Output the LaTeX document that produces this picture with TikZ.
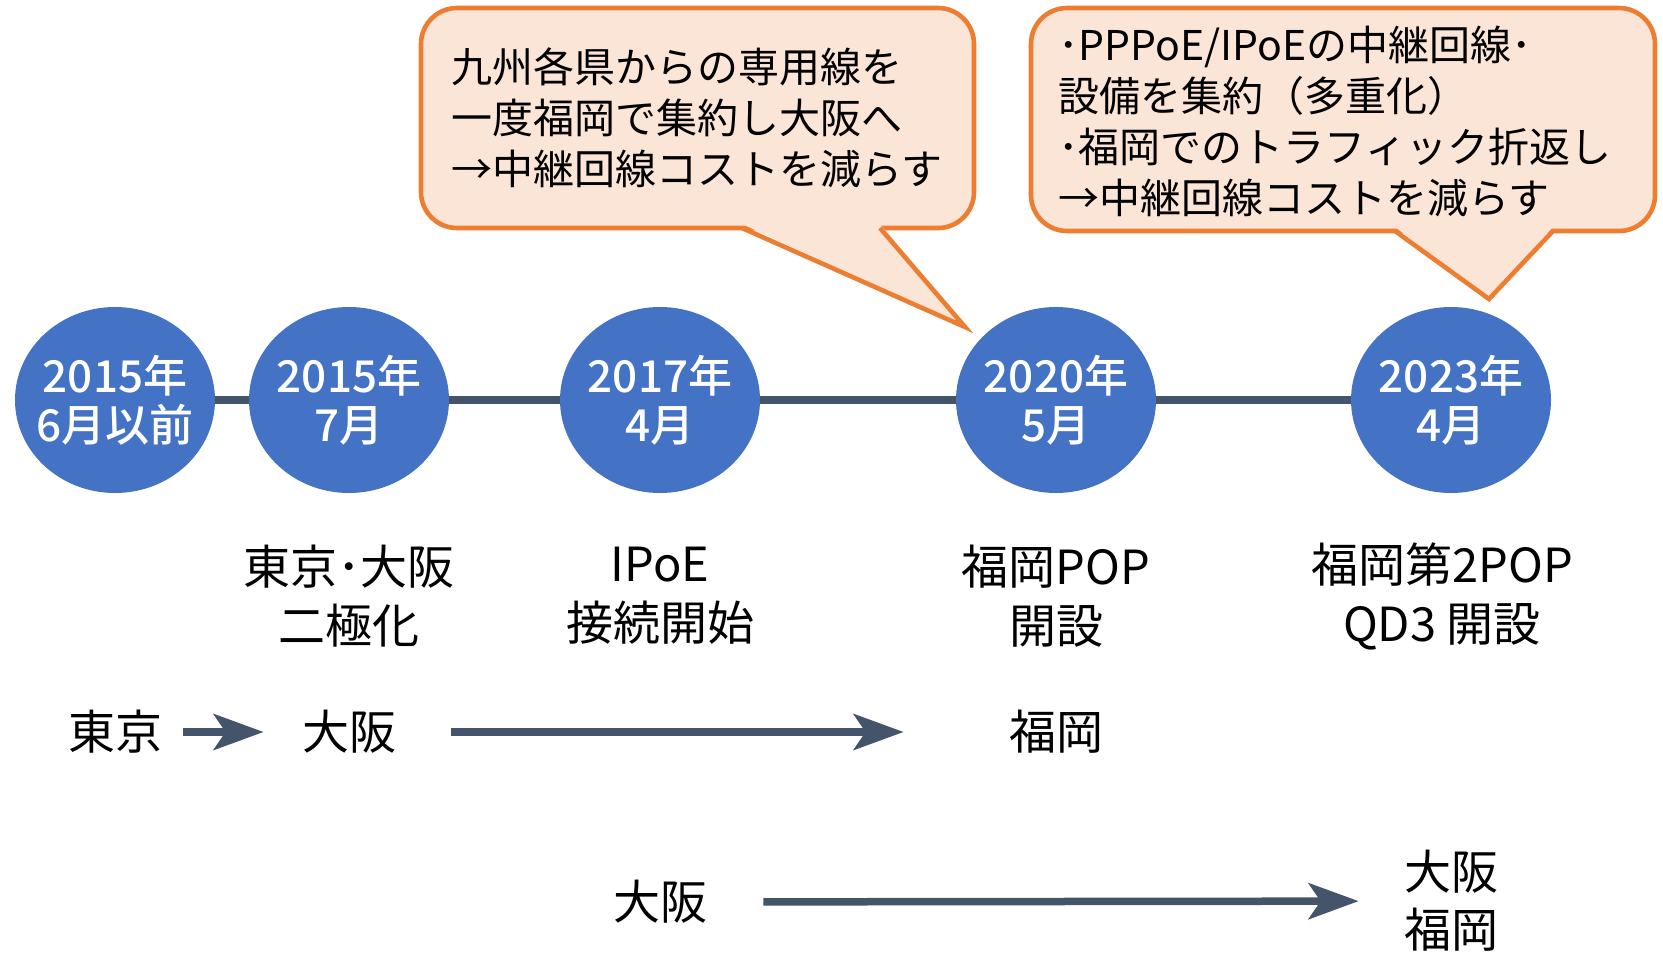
\documentclass[tikz,border=0pt]{standalone}
\usepackage{fontspec}
\setmainfont{Noto Sans CJK JP}
\newfontfamily\datefont{Noto Sans CJK JP}[UprightFont=* Medium]
\usetikzlibrary{shapes.geometric,arrows.meta}

\definecolor{dateblue}{HTML}{4472C4}
\definecolor{slate}{HTML}{44546A}
\definecolor{notefill}{HTML}{FBE5D6}
\definecolor{noteline}{HTML}{ED7D31}

\tikzset{
  date/.style={ellipse, fill=dateblue, text=white, minimum width=100pt, minimum height=93pt, inner sep=-20pt, align=center, font=\fontsize{22}{24.5}\selectfont\datefont},
  event/.style={align=center, inner sep=0pt, font=\fontsize{23.5}{29.5}\selectfont},
  place/.style={align=center, inner sep=0pt, font=\fontsize{23.5}{29}\selectfont},
  note/.style={align=left, inner sep=0pt, anchor=west, font=\fontsize{20.5}{25.5}\selectfont},
  bubble/.style={draw=noteline, fill=notefill, line width=2.3pt, rounded corners=18pt},
  pointer/.style={draw=noteline, line width=2.3pt, line join=miter},
  timeline/.style={draw=slate, line width=4pt},
  flow/.style={draw=slate, line width=3.75pt, -{Stealth[length=25pt,width=18pt,inset=6pt]}}
}

\begin{document}
\begin{tikzpicture}[x=0.5pt, y=-0.5pt]
\useasboundingbox (0,0) rectangle (1663,952);

% dates on the time line
\node[date] (y2015a) at (115,400) {2015年\\6月以前};
\node[date] (y2015b) at (349,400) {2015年\\7月};
\node[date] (y2017) at (660,400) {2017年\\4月};
\node[date] (y2020) at (1056,400) {2020年\\5月};
\node[date] (y2023) at (1451,400) {2023年\\4月};

\path[timeline] (y2015a) -- (y2015b);
\path[timeline] (y2015b) -- (y2017);
\path[timeline] (y2017) -- (y2020);
\path[timeline] (y2020) -- (y2023);

% events
\node[event] (dual) at (349,596) {東京･大阪\\二極化};
\node[event] (ipoe) at (660,596) {IPoE\\接続開始};
\node[event] (fpop) at (1056,596) {福岡POP\\開設};
\node[event] (fpop2) at (1442,596) {福岡第2POP\\QD3 開設};

% callouts
\draw[bubble] (421,8) rectangle (974,228);
\fill[notefill] (742,224) -- (965,327) -- (880,224) -- cycle;
\draw[pointer] (742,228) -- (965,327) -- (880,228);
\node[note] (kyushu) at (451,118) {九州各県からの専用線を\\一度福岡で集約し大阪へ\\→中継回線コストを減らす};

\draw[bubble] (1031,8) rectangle (1655,231);
\fill[notefill] (1395,227) -- (1489,299) -- (1553,227) -- cycle;
\draw[pointer] (1395,231) -- (1489,299) -- (1553,231);
\node[note] (pppoe) at (1058,121) {･PPPoE/IPoEの中継回線･\\設備を集約（多重化）\\･福岡でのトラフィック折返し\\→中継回線コストを減らす};

% row 1
\node[place] (tokyo) at (115,732) {東京};
\node[place] (osaka) at (349,732) {大阪};
\node[place] (fukuoka) at (1056,732) {福岡};
\path[flow, shorten <=10.5pt, shorten >=19pt] (tokyo) -- (osaka);
\path[flow, shorten <=27.5pt, shorten >=52.5pt] (osaka) -- (fukuoka);

% row 2
\node[place] (osaka2) at (660,902) {大阪};
\node[place] (both) at (1451,901) {大阪\\福岡};
\path[flow, shorten <=28pt, shorten >=22.5pt] (osaka2) -- (both);
\end{tikzpicture}
\end{document}
